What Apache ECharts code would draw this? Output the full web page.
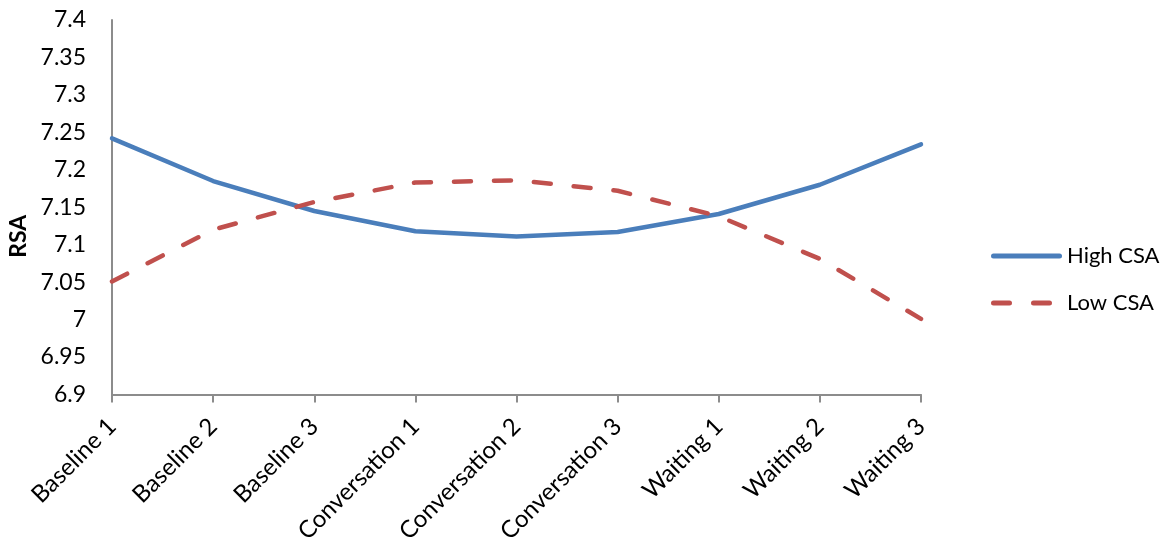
<!DOCTYPE html>
<html>
<head>
<meta charset="utf-8">
<script src="https://cdn.jsdelivr.net/npm/echarts@6/dist/echarts.min.js"></script>
<style>
  html, body { margin: 0; padding: 0; background: #ffffff; }
  #chart { width: 1166px; height: 546px; }
</style>
</head>
<body>
<div id="chart"></div>
<script>
// Phases of the session
const categories = ['Baseline 1', 'Baseline 2', 'Baseline 3',
  'Conversation 1', 'Conversation 2', 'Conversation 3',
  'Waiting 1', 'Waiting 2', 'Waiting 3'];

// Mean RSA per group
const highCSA = [7.242, 7.185, 7.145, 7.118, 7.111, 7.117, 7.141, 7.180, 7.234];
const lowCSA  = [7.051, 7.120, 7.157, 7.183, 7.186, 7.172, 7.138, 7.081, 7.001];

const yMin = 6.9, yMax = 7.4, yStep = 0.05;

const FONT = 'Lato';
const BLUE = '#4a7ebb';
const RED = '#c0504d';

// Legend swatches: a solid rounded bar and two rounded dashes (71 x 5 box)
const solidIcon = 'path://M2.5,0H68.5A2.5,2.5 0 0 1 68.5,5H2.5A2.5,2.5 0 0 1 2.5,0Z';
const dashIcon = 'path://M2.5,0H18.5A2.5,2.5 0 0 1 18.5,5H2.5A2.5,2.5 0 0 1 2.5,0Z' +
  'M42.5,0H58.5A2.5,2.5 0 0 1 58.5,5H42.5A2.5,2.5 0 0 1 42.5,0Z' +
  'M71,0L71,5L71,0Z';

const chart = echarts.init(document.getElementById('chart'));

chart.setOption({
  animation: false,
  backgroundColor: '#ffffff',
  grid: {
    left: 112, right: 245, top: 20, bottom: 151.5,
    containLabel: false, outerBoundsMode: 'none'
  },
  legend: {
    orient: 'vertical',
    left: 986,
    top: 239,
    itemWidth: 71,
    itemHeight: 5,
    itemGap: 23,
    textStyle: { fontFamily: FONT, fontSize: 22, lineHeight: 24, color: '#000000' },
    data: [
      { name: 'High CSA', icon: solidIcon, itemStyle: { color: BLUE } },
      { name: 'Low CSA', icon: dashIcon, itemStyle: { color: RED } }
    ]
  },
  xAxis: {
    type: 'category',
    data: categories,
    boundaryGap: false,
    axisLine: { lineStyle: { color: '#8c8c8c', width: 2 } },
    axisTick: { show: true, length: 8, alignWithLabel: true, lineStyle: { color: '#8c8c8c', width: 2 } },
    axisLabel: {
      interval: 0,
      rotate: 45,
      margin: 28,
      fontFamily: FONT,
      fontSize: 24,
      color: '#000000'
    },
    splitLine: { show: false }
  },
  yAxis: {
    type: 'value',
    min: yMin,
    max: yMax,
    interval: yStep,
    name: 'RSA',
    nameLocation: 'middle',
    nameGap: 82,
    nameRotate: 90,
    nameTextStyle: {
      fontFamily: FONT, fontSize: 23, fontWeight: 'bold', color: '#000000',
      padding: [0, 58, 0, 0]
    },
    axisLine: { show: true, lineStyle: { color: '#8c8c8c', width: 2 } },
    axisTick: { show: false },
    axisLabel: {
      margin: 26,
      fontFamily: FONT,
      fontSize: 23,
      color: '#000000',
      formatter: v => String(parseFloat(v.toFixed(2)))
    },
    splitLine: { show: false }
  },
  series: [
    {
      name: 'High CSA',
      type: 'line',
      data: highCSA,
      symbol: 'none',
      smooth: false,
      color: BLUE,
      lineStyle: { color: BLUE, width: 4.5, cap: 'round', join: 'round' }
    },
    {
      name: 'Low CSA',
      type: 'line',
      data: lowCSA,
      symbol: 'none',
      smooth: false,
      color: RED,
      lineStyle: { color: RED, width: 4.5, type: [17, 23], cap: 'round', join: 'round' }
    }
  ]
});
</script>
</body>
</html>
